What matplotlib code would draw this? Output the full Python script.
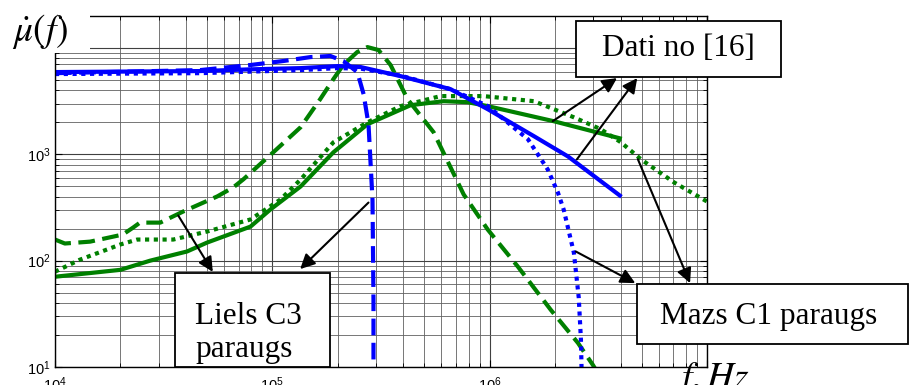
import math

import matplotlib
matplotlib.use("Agg")
import matplotlib.pyplot as plt
from matplotlib.patches import Rectangle
from matplotlib.ticker import LogLocator, FuncFormatter

plt.rcParams['font.family'] = ['Liberation Sans', 'DejaVu Sans']
plt.rcParams['mathtext.fontset'] = 'stix'

# ------------------------------------------------------------
# permeability spectra, mu(f), read per curve
# ------------------------------------------------------------
# blue: measured data from [16]
blue_solid_f = [1e4, 4.66e4, 7.9e4, 1.35e5, 2.0e5, 2.55e5, 3.89e5, 6.61e5, 9.79e5, 1.6e6, 2.29e6, 3.97e6]
blue_solid_mu = [5940, 6070, 6300, 6470, 6760, 6620, 5440, 4100, 2660, 1480, 957, 410]

blue_dot_f = [1e4, 4.66e4, 1.35e5, 2.0e5, 2.55e5, 3.89e5, 6.61e5, 9.79e5, 1.5e6, 1.85e6,
              2.06e6, 2.19e6, 2.44e6, 2.57e6, 2.63e6, 2.65e6]
blue_dot_mu = [5690, 5800, 6200, 6470, 6400, 5500, 4100, 2850, 1387, 721,
               438, 303, 119, 44.8, 18, 8.9]

blue_dash_f = [1e4, 4.66e4, 7.93e4, 1.12e5, 1.5e5, 1.85e5, 2.12e5, 2.46e5, 2.63e5, 2.77e5,
               2.89e5, 2.92e5, 2.92e5]
blue_dash_mu = [5800, 6200, 6920, 7540, 8220, 8410, 7540, 5940, 3680, 1920,
                376, 42.9, 9.4]

# green: model
green_solid_f = [1e4, 2.0e4, 2.74e4, 4.05e4, 5.01e4, 7.93e4, 9.8e4, 1.35e5, 1.91e5, 2.74e5,
                 4.33e5, 6.14e5, 7.92e5, 9.8e5, 1.97e6, 3.97e6]
green_solid_mu = [70.6, 82, 100, 122, 148, 209, 303, 499, 1045, 1920,
                  2900, 3160, 3095, 2840, 2050, 1415]

green_dot_f = [1e4, 1.3e4, 2.0e4, 2.39e4, 3.5e4, 5.01e4, 7.93e4, 1.09e5, 1.35e5, 1.91e5,
               2.74e5, 3.89e5, 5.94e5, 9.38e5, 1.6e6, 2.44e6, 3.25e6, 4.02e6, 4.97e6, 7.05e6, 1e7]
green_dot_mu = [78.7, 102, 142, 158, 158, 188, 244, 376, 580, 1297,
                2000, 2840, 3530, 3530, 3160, 2230, 1720, 1297, 897, 545, 360]

green_dash_f = [1e4, 1.11e4, 1.45e4, 2.05e4, 2.29e4, 2.46e4, 3.05e4, 3.89e4, 5.58e4, 6.61e4,
                7.35e4, 1.01e5, 1.35e5, 1.66e5, 1.91e5, 2.12e5, 2.46e5, 2.74e5, 3.08e5, 3.5e5,
                4.19e5, 5.52e5, 7.59e5, 9.8e5, 1.35e6, 1.91e6, 2.55e6, 2.99e6, 3.08e6]
green_dash_mu = [158, 145, 151, 176, 205, 228, 228, 290, 402, 489,
                 581, 1045, 1800, 3300, 5100, 6920, 9170, 10200, 9570, 6920,
                 3300, 1615, 420, 196, 87.6, 34.5, 16.8, 10.4, 9.4]

BLUE = '#0000ff'
GREEN = '#008000'

fig = plt.figure(figsize=(9.12, 3.85), dpi=100)
ax = fig.add_axes([55 / 912, 18 / 385, 652 / 912, 351 / 385])

lw = 3
ax.plot(green_solid_f, green_solid_mu, color=GREEN, lw=lw)
ax.plot(green_dot_f, green_dot_mu, color=GREEN, lw=lw, dashes=(1, 1.1), dash_capstyle='butt')
ax.plot(green_dash_f, green_dash_mu, color=GREEN, lw=lw, dashes=(4, 1.8), dash_capstyle='butt')
ax.plot(blue_solid_f, blue_solid_mu, color=BLUE, lw=lw)
ax.plot(blue_dot_f, blue_dot_mu, color=BLUE, lw=lw, dashes=(1, 1.1), dash_capstyle='butt')
ax.plot(blue_dash_f, blue_dash_mu, color=BLUE, lw=lw, dashes=(4, 1.8), dash_capstyle='butt')

ax.set_xscale('log')
ax.set_yscale('log')
ax.set_xlim(1e4, 1e7)
ax.set_ylim(10, 2e4)

ax.xaxis.set_major_locator(LogLocator(base=10, numticks=10))
ax.yaxis.set_major_locator(LogLocator(base=10, numticks=10))
ax.xaxis.set_minor_locator(LogLocator(base=10, subs=range(2, 10), numticks=40))
ax.yaxis.set_minor_locator(LogLocator(base=10, subs=range(2, 10), numticks=40))


def x_label(v, pos):
    e = int(round(math.log10(v)))
    return '' if e >= 7 else r'$\mathdefault{10^{%d}}$' % e


def y_label(v, pos):
    # the top decade label sits under the mu(f) title
    e = int(round(math.log10(v)))
    return '' if e >= 4 else r'$\mathdefault{10^{%d}}$' % e


ax.xaxis.set_major_formatter(FuncFormatter(x_label))
ax.yaxis.set_major_formatter(FuncFormatter(y_label))

ax.tick_params(which='both', direction='in', top=True, right=True, labelsize=10.5)
ax.tick_params(which='major', length=5, width=0.8)
ax.tick_params(which='minor', length=3, width=0.6)
ax.tick_params(axis='x', pad=6)
ax.tick_params(axis='y', pad=3)

ax.grid(True, which='major', color='0.25', lw=0.8)
ax.grid(True, which='minor', color='0.38', lw=0.6)
ax.set_axisbelow(True)
for s in ax.spines.values():
    s.set_linewidth(1.0)

# ------------------------------------------------------------
# callout boxes with arrows
# ------------------------------------------------------------
box_kw = dict(transform=ax.transAxes, clip_on=False, facecolor='white',
              edgecolor='black', lw=1.3, zorder=10)
txt_kw = dict(transform=ax.transAxes, family=['Liberation Serif', 'DejaVu Serif'],
              fontsize=22.5, zorder=11)
arr_kw = dict(arrowstyle='-|>', color='black', lw=1.5, mutation_scale=22,
              shrinkA=0, shrinkB=0)

ax.add_patch(Rectangle((0.799, 0.826), 0.314, 0.160, **box_kw))
ax.text(0.956, 0.906, 'Dati no [16]', ha='center', va='center', **txt_kw)
ax.annotate('', xy=(0.862, 0.823), xycoords='axes fraction',
            xytext=(1.95e6, 2050), textcoords='data', arrowprops=arr_kw, zorder=12)
ax.annotate('', xy=(0.893, 0.823), xycoords='axes fraction',
            xytext=(2.52e6, 897), textcoords='data', arrowprops=arr_kw, zorder=12)

ax.add_patch(Rectangle((0.184, 0.0), 0.238, 0.268, **box_kw))
ax.text(0.215, 0.097, 'Liels C3\nparaugs', ha='left', va='center',
        linespacing=1.15, **txt_kw)
ax.annotate('', xy=(0.242, 0.271), xycoords='axes fraction',
            xytext=(3.69e4, 266), textcoords='data', arrowprops=arr_kw, zorder=12)
ax.annotate('', xy=(0.376, 0.279), xycoords='axes fraction',
            xytext=(2.77e5, 352), textcoords='data', arrowprops=arr_kw, zorder=12)

ax.add_patch(Rectangle((0.893, 0.066), 0.415, 0.170, **box_kw))
ax.text(1.094, 0.145, 'Mazs C1 paraugs', ha='center', va='center', **txt_kw)
ax.annotate('', xy=(0.890, 0.239), xycoords='axes fraction',
            xytext=(2.49e6, 122), textcoords='data', arrowprops=arr_kw, zorder=12)
ax.annotate('', xy=(0.974, 0.239), xycoords='axes fraction',
            xytext=(4.81e6, 897), textcoords='data', arrowprops=arr_kw, zorder=12)

# axis titles, mu(f) sits on a white patch over the top-left corner
fig.add_artist(Rectangle((0, 1 - 53 / 385), 90 / 912, 53 / 385, transform=fig.transFigure,
                         facecolor='white', edgecolor='none', zorder=20))
fig.text(12 / 912, 1 - 12 / 385, r'$\dot{\mu}(f)$', fontsize=27, ha='left', va='top', zorder=21)
fig.text(676 / 912, 1 - 360 / 385, r'$f,Hz$', fontsize=27, ha='left', va='top', zorder=21)

fig.savefig('out.png', dpi=100)
